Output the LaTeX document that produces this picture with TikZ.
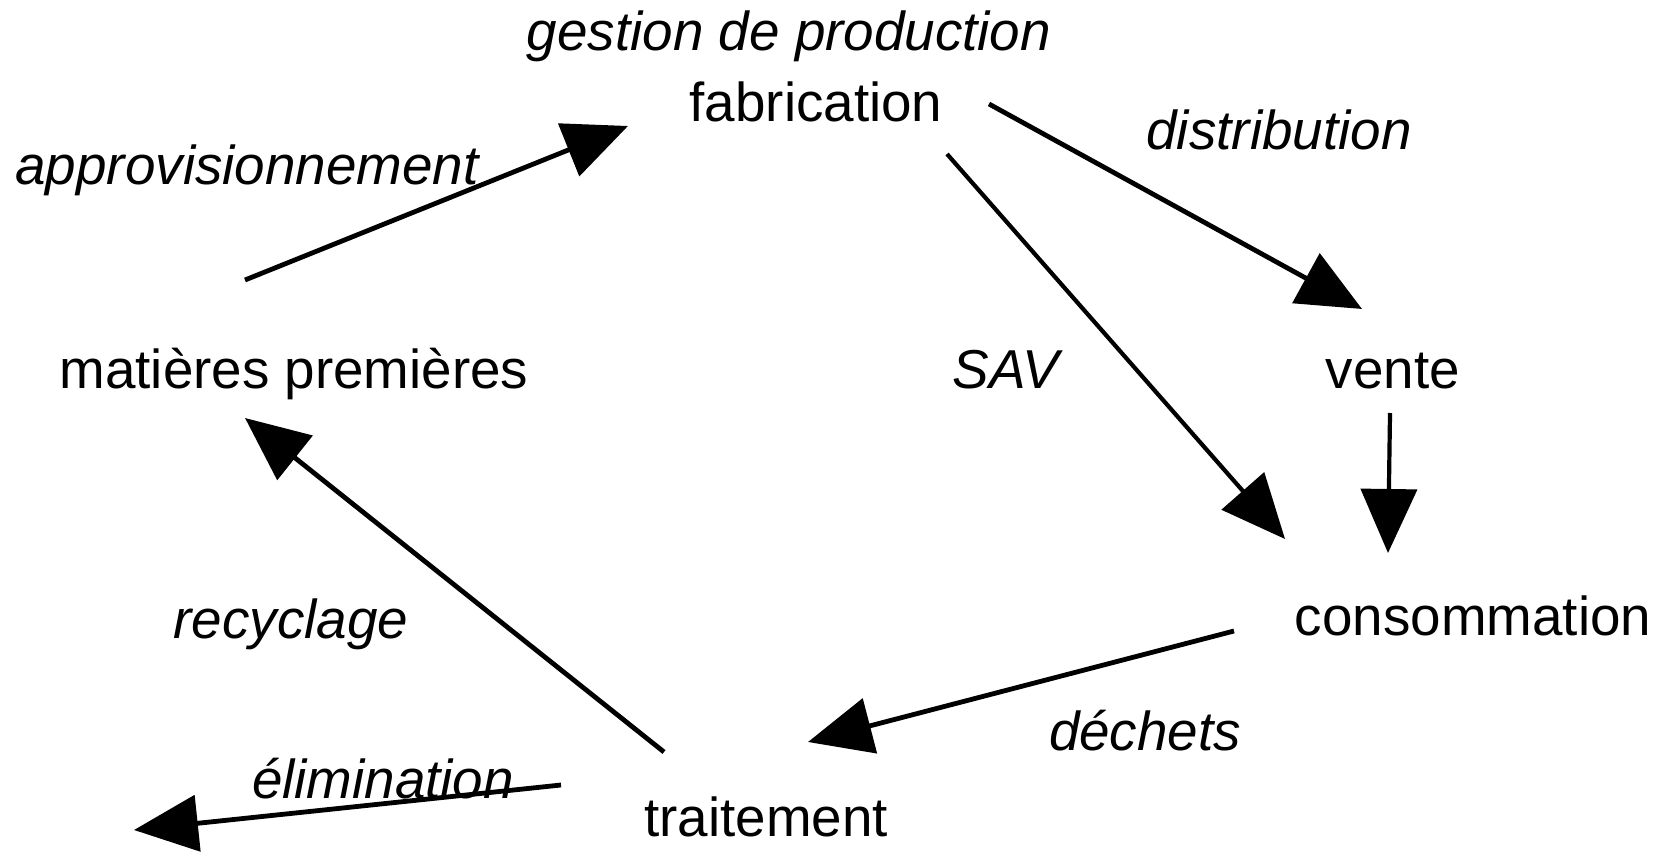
\documentclass[tikz,border=0pt]{standalone}
\usepackage{fontspec}
\setmainfont{Liberation Sans}
\usetikzlibrary{arrows.meta}
\begin{document}
\begin{tikzpicture}[x=0.5pt,y=-0.5pt,
  lbl/.style={anchor=base,inner sep=0pt,font=\fontsize{27.4}{32}\selectfont},
  ilbl/.style={lbl,font=\fontsize{27.4}{32}\selectfont\itshape},
  flow/.style={line width=2.4pt,-{Triangle[length=32pt,width=28pt]}},
  thinflow/.style={flow,line width=2.1pt}]
\useasboundingbox (0,0) rectangle (1668,854);
\node[ilbl] (gest) at (789,51) {gestion de production};
\node[lbl] (fab) at (816,122) {fabrication};
\node[ilbl] (dist) at (1279,150) {distribution};
\node[ilbl] (appro) at (247,185) {approvisionnement};
\node[lbl] (mat) at (294,389) {matières premières};
\node[ilbl] (sav) at (1006,389) {SAV};
\node[lbl] (vente) at (1393,389) {vente};
\node[lbl] (cons) at (1473,635) {consommation};
\node[ilbl] (recy) at (291,638) {recyclage};
\node[ilbl] (dech) at (1145,750) {déchets};
\node[ilbl] (elim) at (383,798) {élimination};
\node[lbl] (trait) at (766,836) {traitement};
% connector end points
\coordinate (a1) at (245,280); \coordinate (a2) at (628,126);
\coordinate (d1) at (989,104); \coordinate (d2) at (1362,309);
\coordinate (s1) at (947,154); \coordinate (s2) at (1285,539);
\coordinate (v1) at (1390,413); \coordinate (v2) at (1388,553);
\coordinate (c1) at (1234,631); \coordinate (c2) at (808,742);
\coordinate (r1) at (664,752); \coordinate (r2) at (245,418);
\coordinate (e1) at (561,785); \coordinate (e2) at (134,830);
\draw[flow] (a1) -- (a2);
\draw[flow] (d1) -- (d2);
\draw[thinflow] (s1) -- (s2);
\draw[thinflow] (v1) -- (v2);
\draw[flow] (c1) -- (c2);
\draw[flow] (r1) -- (r2);
\draw[flow] (e1) -- (e2);
\end{tikzpicture}
\end{document}
